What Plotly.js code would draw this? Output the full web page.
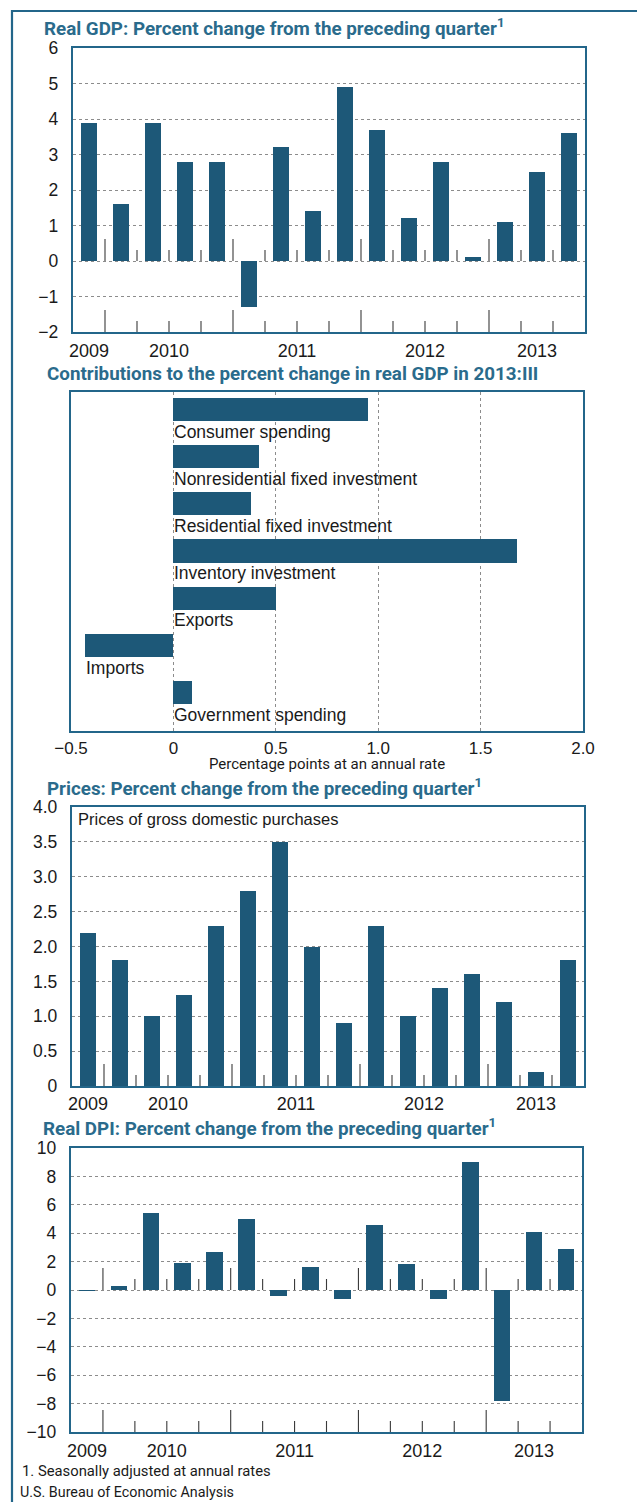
<!DOCTYPE html>
<html>
<head>
<meta charset="utf-8">
<script src="https://cdn.plot.ly/plotly-3.0.1.min.js"></script>
<style>
html,body{margin:0;padding:0;background:#fff;}
#chart{width:637px;height:1502px;}
</style>
</head>
<body>
<div id="chart"></div>
<script>
// ---------------- DATA ----------------
const quarters = ['2009Q4','2010Q1','2010Q2','2010Q3','2010Q4','2011Q1','2011Q2','2011Q3','2011Q4','2012Q1','2012Q2','2012Q3','2012Q4','2013Q1','2013Q2','2013Q3'];
const gdpChange = [3.9,1.6,3.9,2.8,2.8,-1.3,3.2,1.4,4.9,3.7,1.2,2.8,0.1,1.1,2.5,3.6];
const priceChange = [2.2,1.8,1.0,1.3,2.3,2.8,3.5,2.0,0.9,2.3,1.0,1.4,1.6,1.2,0.2,1.8];
const dpiChange = [-0.1,0.3,5.4,1.9,2.7,5.0,-0.4,1.6,-0.6,4.6,1.8,-0.6,9.0,-7.8,4.1,2.9];
const contribCategories = ['Consumer spending','Nonresidential fixed investment','Residential fixed investment','Inventory investment','Exports','Imports','Government spending'];
const contribValues = [0.95,0.42,0.38,1.68,0.50,-0.43,0.09];
const gdpTicks = [6,5,4,3,2,1,0,-1,-2];
const priceTickVals = [0,0.5,1,1.5,2,2.5,3,3.5,4];
const priceTickText = ['0','0.5','1.0','1.5','2.0','2.5','3.0','3.5','4.0'];
const dpiTicks = [10,8,6,4,2,0,-2,-4,-6,-8,-10];
const contribTickVals = [-0.5,0,0.5,1,1.5,2];
const contribTickText = ['\u22120.5','0','0.5','1.0','1.5','2.0'];

// ---------------- STYLE ----------------
const W = 637, H = 1502;
const BAR = '#1d5878';
const FRAME = '#23668a';
const TITLE = '#2a6b8c';
const GRID = '#8c8c8c';
const SANS = 'Liberation Sans, Arial, Helvetica, sans-serif';
const NARROW = 'Roboto, Liberation Sans, Arial, sans-serif';
const px = x => x / W;
const py = y => 1 - y / H;

// quarter positions
const qIdx = quarters.map((q, i) => i);
const yearOf = q => q.slice(0, 4);
const years = [...new Set(quarters.map(yearOf))];
const yearCenters = years.map(y => {
  const ids = qIdx.filter(i => yearOf(quarters[i]) === y);
  return ids.reduce((a, b) => a + b, 0) / ids.length;
});
const boundaries = [];
for (let k = 0; k < quarters.length - 1; k++) {
  boundaries.push({x: k + 0.5, year: yearOf(quarters[k]) !== yearOf(quarters[k + 1])});
}

function qTicks(xref, yref, anchors) {
  const out = [];
  anchors.forEach(a => {
    boundaries.forEach(b => {
      out.push({type: 'line', xref: xref, yref: yref, ysizemode: 'pixel', yanchor: a,
        x0: b.x, x1: b.x, y0: 0, y1: b.year ? 22 : 11,
        line: {color: '#3a3a3a', width: 1.1}, layer: 'above'});
    });
  });
  return out;
}

function frameAxis(extra) {
  return Object.assign({
    showline: true, mirror: true, linecolor: FRAME, linewidth: 2.2,
    zeroline: false, ticks: '', fixedrange: true,
    tickfont: {family: SANS, size: 17.5, color: '#1a1a1a'},
    gridcolor: GRID, gridwidth: 1, griddash: 'dot'
  }, extra);
}

const traces = [
  {type: 'bar', x: qIdx, y: gdpChange, xaxis: 'x', yaxis: 'y', width: 0.52,
   marker: {color: BAR}, hoverinfo: 'skip'},
  {type: 'bar', orientation: 'h', x: contribValues, y: contribCategories.map((c, i) => i),
   xaxis: 'x2', yaxis: 'y2', width: 0.49, marker: {color: BAR}, hoverinfo: 'skip'},
  {type: 'bar', x: qIdx, y: priceChange, xaxis: 'x3', yaxis: 'y3', width: 0.52,
   marker: {color: BAR}, hoverinfo: 'skip'},
  {type: 'bar', x: qIdx, y: dpiChange, xaxis: 'x4', yaxis: 'y4', width: 0.52,
   marker: {color: BAR}, hoverinfo: 'skip'}
];

const yearAxis = (dom, anchor, standoff) => frameAxis({
  domain: dom, anchor: anchor, range: [-0.5, quarters.length - 0.5],
  tickmode: 'array', tickvals: yearCenters, ticktext: years, showgrid: false,
  ticklabelstandoff: standoff, tickfont: {family: SANS, size: 18, color: '#1a1a1a'}
});

const layout = {
  width: W, height: H, margin: {l: 0, r: 0, t: 0, b: 0},
  paper_bgcolor: '#fff', plot_bgcolor: 'rgba(0,0,0,0)',
  showlegend: false, bargap: 0,
  font: {family: SANS, color: '#1a1a1a'},
  xaxis: yearAxis([px(73), px(585)], 'y', 1),
  yaxis: frameAxis({domain: [py(332), py(48)], anchor: 'x', range: [-2, 6],
    tickmode: 'array', tickvals: gdpTicks, showgrid: true, ticklabelstandoff: 9}),
  xaxis2: frameAxis({domain: [px(71), px(583)], anchor: 'y2', range: [-0.5, 2.0],
    tickmode: 'array', tickvals: contribTickVals, ticktext: contribTickText,
    showgrid: true, ticklabelstandoff: 0, tickfont: {family: SANS, size: 17, color: '#1a1a1a'}}),
  yaxis2: frameAxis({domain: [py(731), py(392)], anchor: 'x2', range: [6.82, -0.373],
    showticklabels: false, showgrid: false}),
  xaxis3: yearAxis([px(72), px(584)], 'y3', 0),
  yaxis3: frameAxis({domain: [py(1086), py(807)], anchor: 'x3', range: [0, 4],
    tickmode: 'array', tickvals: priceTickVals, ticktext: priceTickText, showgrid: true, ticklabelstandoff: 9}),
  xaxis4: yearAxis([px(71), px(582)], 'y4', 1),
  yaxis4: frameAxis({domain: [py(1432), py(1148)], anchor: 'x4', range: [-10, 10],
    tickmode: 'array', tickvals: dpiTicks, showgrid: true, ticklabelstandoff: 9}),
  shapes: [].concat(
    [{type: 'path', xref: 'paper', yref: 'paper',
      path: 'M ' + px(12) + ',' + py(1510) + ' L ' + px(12) + ',' + py(11) + ' L ' + px(640) + ',' + py(11),
      line: {color: FRAME, width: 2.2}}],
    qTicks('x', 'y', [0, -2]),
    qTicks('x3', 'y3', [0]),
    qTicks('x4', 'y4', [0, -10])
  ),
  annotations: []
};

function title(text, x, y) {
  layout.annotations.push({xref: 'paper', yref: 'paper', x: px(x), y: py(y),
    xanchor: 'left', yanchor: 'middle', showarrow: false, text: text, borderpad: 0,
    font: {family: NARROW, size: 18.8, color: TITLE, weight: 'bold'}});
}
title('Real GDP: Percent change from the preceding quarter<sup>1</sup>', 43, 28);
title('Contributions to the percent change in real GDP in 2013:III', 46, 374);
title('Prices: Percent change from the preceding quarter<sup>1</sup>', 46, 787);
title('Real DPI: Percent change from the preceding quarter<sup>1</sup>', 42, 1127);

// bar labels for contributions
contribCategories.forEach((c, i) => {
  layout.annotations.push({xref: 'x2', yref: 'y2', x: Math.min(0, contribValues[i]), y: i + 0.475,
    xanchor: 'left', yanchor: 'middle', showarrow: false, text: c, xshift: -1,
    font: {family: SANS, size: 17.5, color: '#1a1a1a'}});
});

layout.annotations.push({xref: 'paper', yref: 'paper', x: px(327), y: py(764),
  xanchor: 'center', yanchor: 'middle', showarrow: false,
  text: 'Percentage points at an annual rate', font: {family: NARROW, size: 15, color: '#1a1a1a'}});
layout.annotations.push({xref: 'paper', yref: 'paper', x: px(76), y: py(819),
  xanchor: 'left', yanchor: 'middle', showarrow: false,
  text: 'Prices of gross domestic purchases', font: {family: SANS, size: 16.5, color: '#1a1a1a'}});
layout.annotations.push({xref: 'paper', yref: 'paper', x: px(20), y: py(1471),
  xanchor: 'left', yanchor: 'middle', showarrow: false,
  text: '1. Seasonally adjusted at annual rates', font: {family: NARROW, size: 14.8, color: '#1a1a1a'}});
layout.annotations.push({xref: 'paper', yref: 'paper', x: px(18), y: py(1492),
  xanchor: 'left', yanchor: 'middle', showarrow: false,
  text: 'U.S. Bureau of Economic Analysis', font: {family: NARROW, size: 14.3, color: '#1a1a1a'}});

Plotly.newPlot('chart', traces, layout, {staticPlot: true, displayModeBar: false});
</script>
</body>
</html>
